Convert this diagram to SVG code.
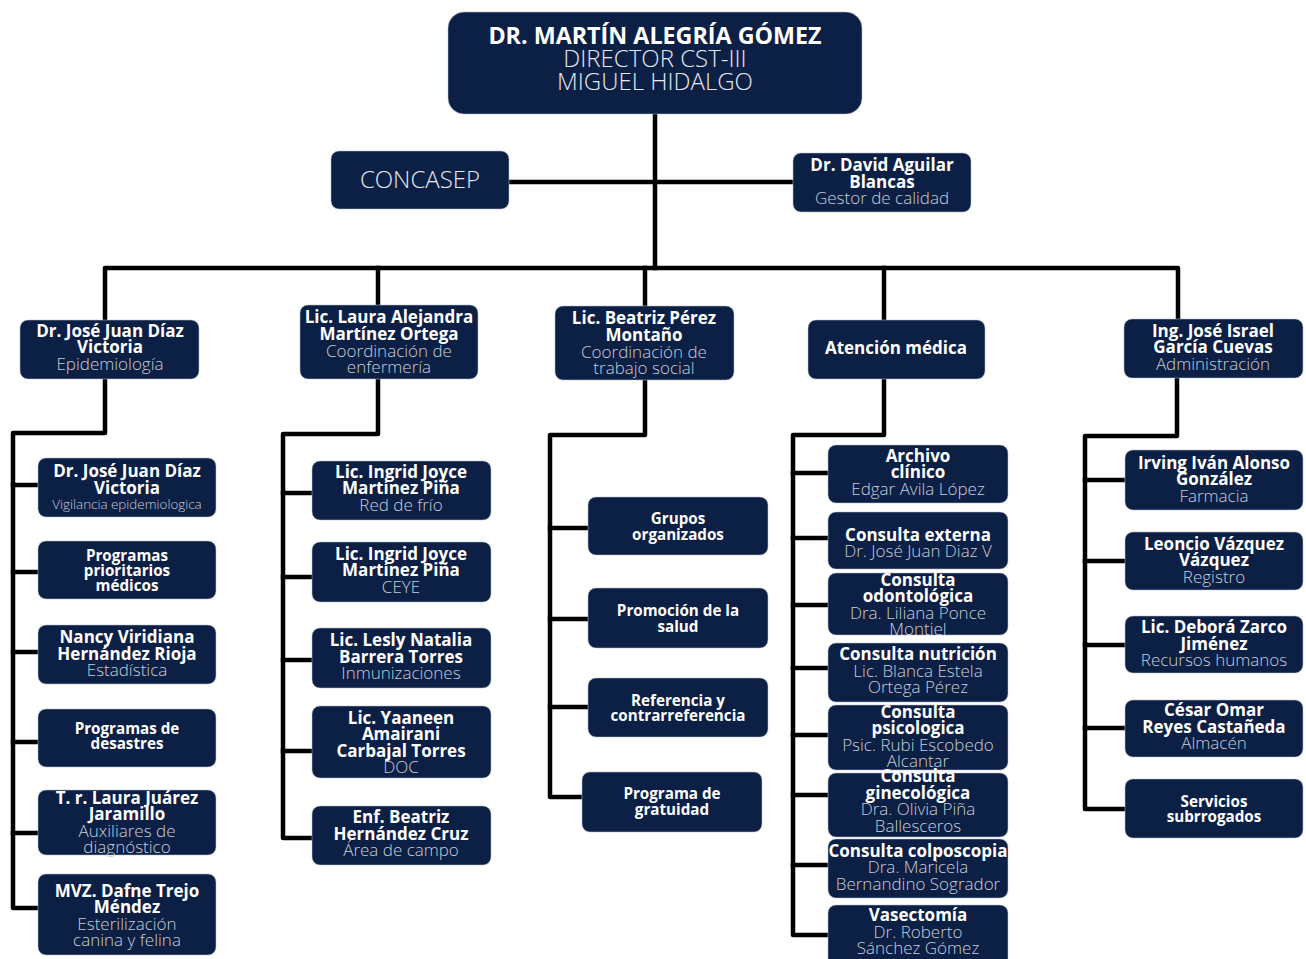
<svg xmlns="http://www.w3.org/2000/svg" width="1306" height="959" viewBox="0 0 1306 959">
<style>
.box{fill:#0c1f45;stroke:#b9bfcb;stroke-width:1;stroke-opacity:0.55}
.b{font-family:"Open Sans","DejaVu Sans",sans-serif;font-weight:700;font-size:17px;fill:#ffffff;text-anchor:middle}
.s{font-family:"Open Sans","DejaVu Sans",sans-serif;font-weight:700;font-size:15.2px;fill:#ffffff;text-anchor:middle}
.l{font-family:"Open Sans","DejaVu Sans",sans-serif;font-weight:300;font-size:17px;fill:#c9ced8;text-anchor:middle}
.xs{font-family:"Open Sans","DejaVu Sans",sans-serif;font-weight:300;font-size:13.4px;fill:#c9ced8;text-anchor:middle}
.tb{font-family:"Open Sans","DejaVu Sans",sans-serif;font-weight:700;font-size:23.3px;fill:#ffffff;text-anchor:middle}
.tl{font-family:"Open Sans","DejaVu Sans",sans-serif;font-weight:300;font-size:24px;fill:#e6e9ef;text-anchor:middle}
.cn{fill:none;stroke:#000000;stroke-width:4.5;stroke-linejoin:round;stroke-linecap:square}
</style>
<rect width="1306" height="959" fill="#ffffff"/>
<g id="connectors" class="cn">
<path d="M655 114 V268"/>
<path d="M509 182 H793"/>
<path d="M105 320 V268 H1178 V319"/>
<path d="M378 268 V305"/>
<path d="M645 268 V306"/>
<path d="M884 268 V320"/>
<path d="M105 379 V433 H13 V908 H38"/>
<path d="M13 485 H38 M13 572 H38 M13 652 H38 M13 742 H38 M13 833 H38"/>
<path d="M378 379 V434 H283 V838 H312"/>
<path d="M283 493 H312 M283 577 H312 M283 660 H312 M283 751 H312"/>
<path d="M645 380 V435 H550 V797 H582"/>
<path d="M550 528 H588 M550 619 H588 M550 707 H588"/>
<path d="M884 379 V435 H793 V935 H828"/>
<path d="M793 473 H828 M793 538 H828 M793 605 H828 M793 668 H828 M793 735 H828 M793 795 H828 M793 865 H828"/>
<path d="M1177 378 V436 H1085 V809 H1125"/>
<path d="M1085 480 H1125 M1085 561 H1125 M1085 645 H1125 M1085 728 H1125"/>
</g>
<g id="n-director"><rect class="box" x="448" y="12" width="414" height="102" rx="16"/>
<text class="tb" x="655" y="44">DR. MARTÍN ALEGRÍA GÓMEZ</text>
<text class="tl" x="655" y="67">DIRECTOR CST-III</text>
<text class="tl" x="655" y="90">MIGUEL HIDALGO</text></g>
<g id="n-concasep"><rect class="box" x="331" y="151" width="178" height="58" rx="8"/>
<text class="tl" x="420" y="188">CONCASEP</text></g>
<g id="n-david"><rect class="box" x="793" y="153" width="178" height="59" rx="8"/>
<text class="b" x="882" y="171">Dr. David Aguilar</text>
<text class="b" x="882" y="188">Blancas</text>
<text class="l" x="882" y="204">Gestor de calidad</text></g>

<g id="n-epid"><rect class="box" x="20" y="320" width="179" height="59" rx="8"/>
<text class="b" x="110" y="337">Dr. José Juan Díaz</text>
<text class="b" x="110" y="353">Victoria</text>
<text class="l" x="110" y="370">Epidemiología</text></g>
<g id="n-enf"><rect class="box" x="300" y="305" width="178" height="74" rx="8"/>
<text class="b" x="389" y="323">Lic. Laura Alejandra</text>
<text class="b" x="389" y="340">Martínez Ortega</text>
<text class="l" x="389" y="357">Coordinación de</text>
<text class="l" x="389" y="373">enfermería</text></g>
<g id="n-ts"><rect class="box" x="555" y="306" width="179" height="74" rx="8"/>
<text class="b" x="644" y="324">Lic. Beatriz Pérez</text>
<text class="b" x="644" y="341">Montaño</text>
<text class="l" x="644" y="358">Coordinación de</text>
<text class="l" x="644" y="374">trabajo social</text></g>
<g id="n-atm"><rect class="box" x="808" y="320" width="177" height="59" rx="8"/>
<text class="b" x="896" y="354">Atención médica</text></g>
<g id="n-adm"><rect class="box" x="1124" y="319" width="179" height="59" rx="8"/>
<text class="b" x="1213" y="337">Ing. José Israel</text>
<text class="b" x="1213" y="353">García Cuevas</text>
<text class="l" x="1213" y="370">Administración</text></g>

<g id="n-c1a"><rect class="box" x="38" y="458" width="178" height="59" rx="8"/>
<text class="b" x="127" y="477">Dr. José Juan Díaz</text>
<text class="b" x="127" y="494">Victoria</text>
<text class="xs" x="127" y="509">Vigilancia epidemiologica</text></g>
<g id="n-c1b"><rect class="box" x="38" y="541" width="178" height="58" rx="8"/>
<text class="s" x="127" y="561">Programas</text>
<text class="s" x="127" y="576">prioritarios</text>
<text class="s" x="127" y="591">médicos</text></g>
<g id="n-c1c"><rect class="box" x="38" y="625" width="178" height="59" rx="8"/>
<text class="b" x="127" y="643">Nancy Viridiana</text>
<text class="b" x="127" y="660">Hernández Rioja</text>
<text class="l" x="127" y="676">Estadística</text></g>
<g id="n-c1d"><rect class="box" x="38" y="709" width="178" height="58" rx="8"/>
<text class="s" x="127" y="734">Programas de</text>
<text class="s" x="127" y="749">desastres</text></g>
<g id="n-c1e"><rect class="box" x="38" y="790" width="178" height="65" rx="8"/>
<text class="b" x="127" y="804">T. r. Laura Juárez</text>
<text class="b" x="127" y="820">Jaramillo</text>
<text class="l" x="127" y="837">Auxiliares de</text>
<text class="l" x="127" y="853">diagnóstico</text></g>
<g id="n-c1f"><rect class="box" x="38" y="874" width="178" height="81" rx="8"/>
<text class="b" x="127" y="897">MVZ. Dafne Trejo</text>
<text class="b" x="127" y="913">Méndez</text>
<text class="l" x="127" y="930">Esterilización</text>
<text class="l" x="127" y="946">canina y felina</text></g>

<g id="n-c2a"><rect class="box" x="312" y="461" width="179" height="59" rx="8"/>
<text class="b" x="401" y="478">Lic. Ingrid Joyce</text>
<text class="b" x="401" y="494">Martínez Piña</text>
<text class="l" x="401" y="511">Red de frío</text></g>
<g id="n-c2b"><rect class="box" x="312" y="542" width="179" height="60" rx="8"/>
<text class="b" x="401" y="560">Lic. Ingrid Joyce</text>
<text class="b" x="401" y="576">Martínez Piña</text>
<text class="l" x="401" y="593">CEYE</text></g>
<g id="n-c2c"><rect class="box" x="312" y="628" width="179" height="60" rx="8"/>
<text class="b" x="401" y="646">Lic. Lesly Natalia</text>
<text class="b" x="401" y="663">Barrera Torres</text>
<text class="l" x="401" y="679">Inmunizaciones</text></g>
<g id="n-c2d"><rect class="box" x="312" y="706" width="179" height="72" rx="8"/>
<text class="b" x="401" y="724">Lic. Yaaneen</text>
<text class="b" x="401" y="740">Amairani</text>
<text class="b" x="401" y="757">Carbajal Torres</text>
<text class="l" x="401" y="773">DOC</text></g>
<g id="n-c2e"><rect class="box" x="312" y="806" width="179" height="59" rx="8"/>
<text class="b" x="401" y="823">Enf. Beatriz</text>
<text class="b" x="401" y="840">Hernández Cruz</text>
<text class="l" x="401" y="856">Área de campo</text></g>

<g id="n-c3a"><rect class="box" x="588" y="497" width="180" height="58" rx="8"/>
<text class="s" x="678" y="524">Grupos</text>
<text class="s" x="678" y="540">organizados</text></g>
<g id="n-c3b"><rect class="box" x="588" y="588" width="180" height="60" rx="8"/>
<text class="s" x="678" y="616">Promoción de la</text>
<text class="s" x="678" y="632">salud</text></g>
<g id="n-c3c"><rect class="box" x="588" y="678" width="180" height="59" rx="8"/>
<text class="s" x="678" y="706">Referencia y</text>
<text class="s" x="678" y="721">contrarreferencia</text></g>
<g id="n-c3d"><rect class="box" x="582" y="772" width="180" height="60" rx="8"/>
<text class="s" x="672" y="799">Programa de</text>
<text class="s" x="672" y="815">gratuidad</text></g>

<g id="n-c4a"><rect class="box" x="828" y="445" width="180" height="58" rx="8"/>
<text class="b" x="918" y="462">Archivo</text>
<text class="b" x="918" y="478">clínico</text>
<text class="l" x="918" y="495">Edgar Avila López</text></g>
<g id="n-c4b"><rect class="box" x="828" y="512" width="180" height="57" rx="8"/>
<text class="b" x="918" y="541">Consulta externa</text>
<text class="l" x="918" y="557">Dr. José Juan Diaz V</text></g>
<g id="n-c4c"><rect class="box" x="828" y="573" width="180" height="62" rx="8"/>
<text class="b" x="918" y="586">Consulta</text>
<text class="b" x="918" y="602">odontológica</text>
<text class="l" x="918" y="619">Dra. Liliana Ponce</text>
<text class="l" x="918" y="635">Montiel</text></g>
<g id="n-c4d"><rect class="box" x="828" y="643" width="180" height="59" rx="8"/>
<text class="b" x="918" y="660">Consulta nutrición</text>
<text class="l" x="918" y="677">Lic. Blanca Estela</text>
<text class="l" x="918" y="693">Ortega Pérez</text></g>
<g id="n-c4e"><rect class="box" x="828" y="705" width="180" height="65" rx="8"/>
<text class="b" x="918" y="718">Consulta</text>
<text class="b" x="918" y="734">psicologica</text>
<text class="l" x="918" y="751">Psic. Rubi Escobedo</text>
<text class="l" x="918" y="767">Alcantar</text></g>
<g id="n-c4f"><rect class="box" x="828" y="773" width="180" height="64" rx="8"/>
<text class="b" x="918" y="782">Consulta</text>
<text class="b" x="918" y="799">ginecológica</text>
<text class="l" x="918" y="815">Dra. Olivia Piña</text>
<text class="l" x="918" y="832">Ballesceros</text></g>
<g id="n-c4g"><rect class="box" x="828" y="839" width="180" height="59" rx="8"/>
<text class="b" x="918" y="857">Consulta colposcopia</text>
<text class="l" x="918" y="873">Dra. Maricela</text>
<text class="l" x="918" y="890">Bernandino Sogrador</text></g>
<g id="n-c4h"><rect class="box" x="828" y="905" width="180" height="62" rx="8"/>
<text class="b" x="918" y="921">Vasectomía</text>
<text class="l" x="918" y="938">Dr. Roberto</text>
<text class="l" x="918" y="954">Sánchez Gómez</text></g>

<g id="n-c5a"><rect class="box" x="1125" y="450" width="178" height="60" rx="8"/>
<text class="b" x="1214" y="469">Irving Iván Alonso</text>
<text class="b" x="1214" y="485">González</text>
<text class="l" x="1214" y="502">Farmacia</text></g>
<g id="n-c5b"><rect class="box" x="1125" y="532" width="178" height="58" rx="8"/>
<text class="b" x="1214" y="550">Leoncio Vázquez</text>
<text class="b" x="1214" y="566">Vázquez</text>
<text class="l" x="1214" y="583">Registro</text></g>
<g id="n-c5c"><rect class="box" x="1125" y="616" width="178" height="57" rx="8"/>
<text class="b" x="1214" y="633">Lic. Deborá Zarco</text>
<text class="b" x="1214" y="650">Jiménez</text>
<text class="l" x="1214" y="666">Recursos humanos</text></g>
<g id="n-c5d"><rect class="box" x="1125" y="700" width="178" height="57" rx="8"/>
<text class="b" x="1214" y="716">César Omar</text>
<text class="b" x="1214" y="733">Reyes Castañeda</text>
<text class="l" x="1214" y="749">Almacén</text></g>
<g id="n-c5e"><rect class="box" x="1125" y="779" width="178" height="59" rx="8"/>
<text class="s" x="1214" y="807">Servicios</text>
<text class="s" x="1214" y="822">subrrogados</text></g>
</svg>
